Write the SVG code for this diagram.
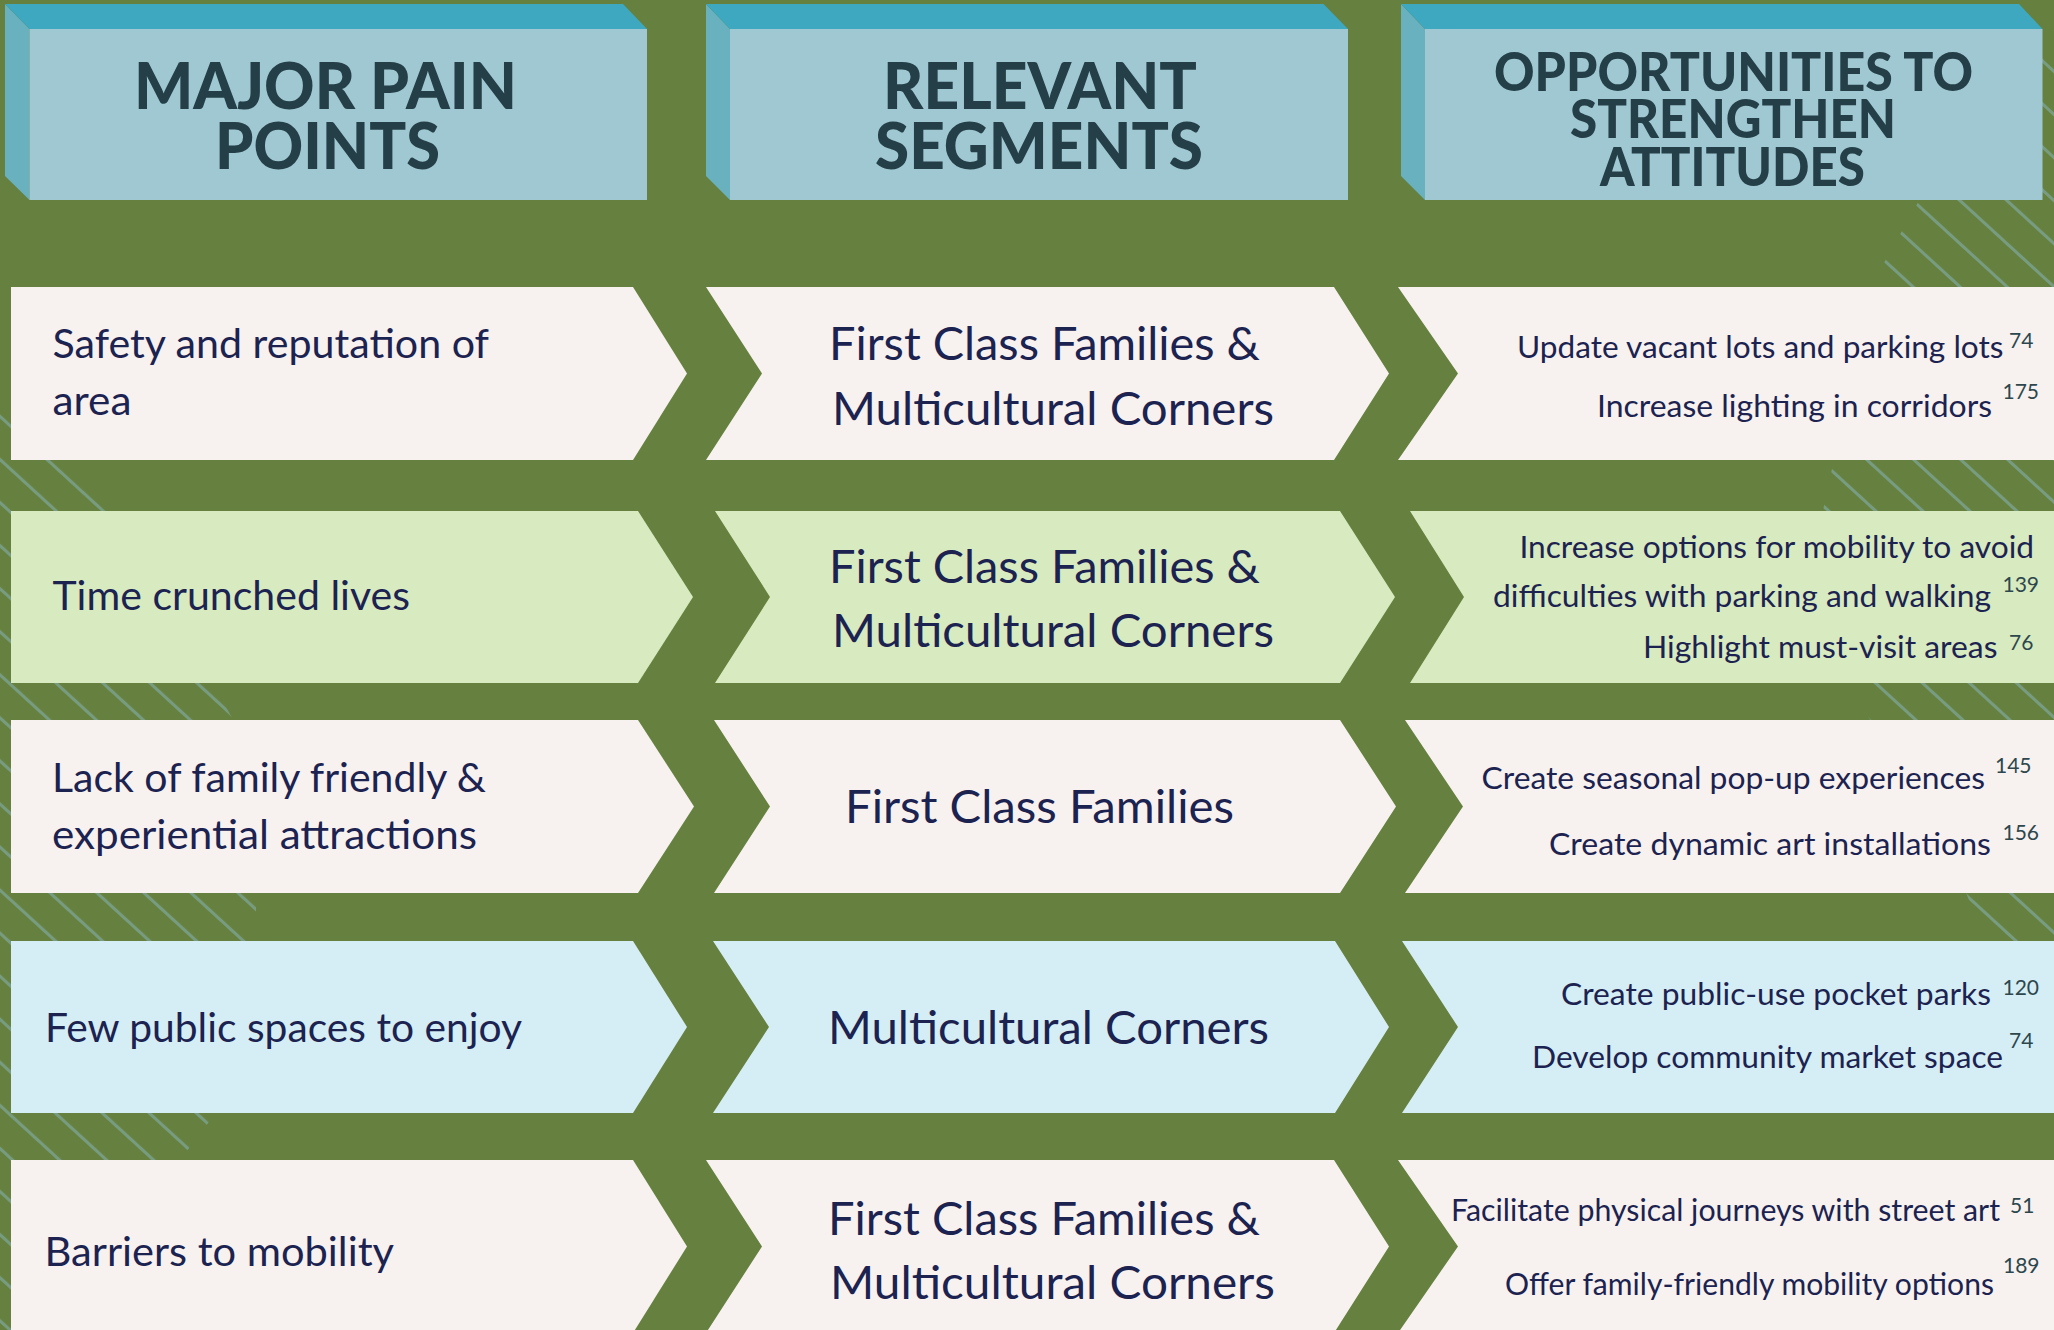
<svg xmlns="http://www.w3.org/2000/svg" width="2054" height="1330" viewBox="0 0 2054 1330">
  <defs>
    <style>
      .hd-top { fill: #3da8bf; }
      .hd-side { fill: #6ab1c0; }
      .hd-front { fill: #a0c8d2; }
      .hd-text { font-family: Lato, "Liberation Sans", sans-serif; font-weight: 900; fill: #243f47; text-anchor: middle; }
      .h1 { font-size: 64px; }
      .h3 { font-size: 54px; }
      .row-a { fill: #f7f2ef; }
      .row-b { fill: #d8eabf; }
      .row-c { fill: #d5eef5; }
      .t { font-family: Lato, "Liberation Sans", sans-serif; fill: #1c2350; }
      .lt { font-size: 41px; }
      .mt { font-size: 46px; }
      .rt { font-size: 31px; text-anchor: end; }
      .sup { font-family: Lato, "Liberation Sans", sans-serif; font-size: 21px; fill: #2d474d; }
    </style>
    <!-- diagonal pinstripes for the background decoration -->
    <pattern id="stripesL" patternUnits="userSpaceOnUse" width="31.75" height="20" patternTransform="rotate(-47.5)">
      <rect x="9" y="0" width="3" height="20" fill="#789c82"/>
    </pattern>
    <pattern id="stripesR" patternUnits="userSpaceOnUse" width="31.75" height="20" patternTransform="rotate(-47.5)">
      <rect x="0" y="0" width="3" height="20" fill="#789c82"/>
    </pattern>
    <clipPath id="clipL">
      <polygon points="0,395 20,395 125,505 222,700 256,760 256,1060 180,1160 11,1160 11,1333 0,1333"/>
    </clipPath>
    <clipPath id="clipR">
      <polygon points="2054,30 2045,30 1925,190 1880,270 1835,455 1822,515 1850,684 1965,890 1985,941 2054,941"/>
    </clipPath>
  </defs>

  <!-- background -->
  <rect x="0" y="0" width="2054" height="1330" fill="#66813f"/>
  <g id="stripes">
    <rect x="0" y="0" width="400" height="1330" fill="url(#stripesL)" clip-path="url(#clipL)"/>
    <rect x="1700" y="0" width="354" height="1330" fill="url(#stripesR)" clip-path="url(#clipR)"/>
  </g>

  <!-- column headers -->
  <g id="header-pain-points">
    <polygon class="hd-side" points="5,4 29.5,29 29.5,200 5,176"/>
    <polygon class="hd-top" points="5,4 623,4 647,29 29.5,29"/>
    <rect class="hd-front" x="29.5" y="29" width="617.5" height="171"/>
    <text class="hd-text h1" x="325.5" y="109" textLength="383" lengthAdjust="spacingAndGlyphs">MAJOR PAIN</text>
    <text class="hd-text h1" x="327.5" y="169" textLength="225" lengthAdjust="spacingAndGlyphs">POINTS</text>
  </g>
  <g id="header-segments">
    <polygon class="hd-side" points="706,4 730,29 730,200 706,176"/>
    <polygon class="hd-top" points="706,4 1323.5,4 1348,29 730,29"/>
    <rect class="hd-front" x="730" y="29" width="618" height="171"/>
    <text class="hd-text h1" x="1040" y="109" textLength="314" lengthAdjust="spacingAndGlyphs">RELEVANT</text>
    <text class="hd-text h1" x="1039" y="169" textLength="328" lengthAdjust="spacingAndGlyphs">SEGMENTS</text>
  </g>
  <g id="header-opportunities">
    <polygon class="hd-side" points="1401,4 1425,29 1425,200 1401,176"/>
    <polygon class="hd-top" points="1401,4 2019,4 2042.5,29 1425,29"/>
    <rect class="hd-front" x="1425" y="29" width="617.5" height="171"/>
    <text class="hd-text h3" x="1733.5" y="91" textLength="479" lengthAdjust="spacingAndGlyphs">OPPORTUNITIES TO</text>
    <text class="hd-text h3" x="1733" y="138" textLength="326" lengthAdjust="spacingAndGlyphs">STRENGTHEN</text>
    <text class="hd-text h3" x="1732.5" y="186" textLength="265" lengthAdjust="spacingAndGlyphs">ATTITUDES</text>
  </g>

  <!-- row 1 -->
  <g id="pain-safety">
    <polygon class="row-a" points="11,287 633,287 687,373.5 633,460 11,460"/>
    <text class="t lt" x="52.5" y="358" textLength="436.5" lengthAdjust="spacingAndGlyphs">Safety and reputation of</text>
    <text class="t lt" x="52.5" y="415" textLength="79" lengthAdjust="spacingAndGlyphs">area</text>
  </g>
  <g id="segment-safety">
    <polygon class="row-a" points="706,287 1334,287 1389,373.5 1334,460 706,460 762,373.5"/>
    <text class="t mt" x="829" y="360" textLength="431" lengthAdjust="spacingAndGlyphs">First Class Families &amp;</text>
    <text class="t mt" x="832" y="425" textLength="442" lengthAdjust="spacingAndGlyphs">Multicultural Corners</text>
  </g>
  <g id="opportunity-safety">
    <polygon class="row-a" points="1398,287 2054,287 2054,460 1398,460 1458,373.5"/>
    <text class="t rt" x="2003.5" y="358" textLength="486.5" lengthAdjust="spacingAndGlyphs">Update vacant lots and parking lots</text>
    <text class="sup" x="2009" y="348">74</text>
    <text class="t rt" x="1992" y="417" textLength="395" lengthAdjust="spacingAndGlyphs">Increase lighting in corridors</text>
    <text class="sup" x="2002.5" y="399">175</text>
  </g>

  <!-- row 2 -->
  <g id="pain-time">
    <polygon class="row-b" points="11,511 638,511 693,597 638,683 11,683"/>
    <text class="t lt" x="52.5" y="610" textLength="357.5" lengthAdjust="spacingAndGlyphs">Time crunched lives</text>
  </g>
  <g id="segment-time">
    <polygon class="row-b" points="715,511 1340,511 1395,597 1340,683 715,683 770,597"/>
    <text class="t mt" x="829" y="583" textLength="431" lengthAdjust="spacingAndGlyphs">First Class Families &amp;</text>
    <text class="t mt" x="832" y="647" textLength="442" lengthAdjust="spacingAndGlyphs">Multicultural Corners</text>
  </g>
  <g id="opportunity-time">
    <polygon class="row-b" points="1410,511 2054,511 2054,683 1410,683 1464,597"/>
    <text class="t rt" x="2034" y="558" textLength="514.6" lengthAdjust="spacingAndGlyphs">Increase options for mobility to avoid</text>
    <text class="t rt" x="1991" y="607" textLength="498" lengthAdjust="spacingAndGlyphs">difficulties with parking and walking</text>
    <text class="sup" x="2002.5" y="592">139</text>
    <text class="t rt" x="1997.5" y="658" textLength="354.5" lengthAdjust="spacingAndGlyphs">Highlight must-visit areas</text>
    <text class="sup" x="2009" y="650">76</text>
  </g>

  <!-- row 3 -->
  <g id="pain-attractions">
    <polygon class="row-a" points="11,720 638,720 694,806.5 638,893 11,893"/>
    <text class="t lt" x="52" y="792" textLength="434" lengthAdjust="spacingAndGlyphs">Lack of family friendly &amp;</text>
    <text class="t lt" x="52" y="849" textLength="425" lengthAdjust="spacingAndGlyphs">experiential attractions</text>
  </g>
  <g id="segment-attractions">
    <polygon class="row-a" points="714,720 1340,720 1396,806.5 1340,893 714,893 770,806.5"/>
    <text class="t mt" x="845" y="823" textLength="389" lengthAdjust="spacingAndGlyphs">First Class Families</text>
  </g>
  <g id="opportunity-attractions">
    <polygon class="row-a" points="1405,720 2054,720 2054,893 1405,893 1463,806.5"/>
    <text class="t rt" x="1985" y="789" textLength="503.4" lengthAdjust="spacingAndGlyphs">Create seasonal pop-up experiences</text>
    <text class="sup" x="1995" y="773">145</text>
    <text class="t rt" x="1991" y="855" textLength="442" lengthAdjust="spacingAndGlyphs">Create dynamic art installations</text>
    <text class="sup" x="2002.5" y="840">156</text>
  </g>

  <!-- row 4 -->
  <g id="pain-public-spaces">
    <polygon class="row-c" points="11,941 633,941 687,1027 633,1113 11,1113"/>
    <text class="t lt" x="45" y="1042" textLength="477" lengthAdjust="spacingAndGlyphs">Few public spaces to enjoy</text>
  </g>
  <g id="segment-public-spaces">
    <polygon class="row-c" points="713,941 1335,941 1389,1027 1335,1113 713,1113 769,1027"/>
    <text class="t mt" x="828" y="1044" textLength="441" lengthAdjust="spacingAndGlyphs">Multicultural Corners</text>
  </g>
  <g id="opportunity-public-spaces">
    <polygon class="row-c" points="1402,941 2054,941 2054,1113 1402,1113 1458,1027"/>
    <text class="t rt" x="1991" y="1005" textLength="430" lengthAdjust="spacingAndGlyphs">Create public-use pocket parks</text>
    <text class="sup" x="2002.5" y="995">120</text>
    <text class="t rt" x="2003" y="1068" textLength="471" lengthAdjust="spacingAndGlyphs">Develop community market space</text>
    <text class="sup" x="2009" y="1048">74</text>
  </g>

  <!-- row 5 -->
  <g id="pain-mobility">
    <polygon class="row-a" points="11,1160 633,1160 687,1246.5 633,1333 11,1333"/>
    <text class="t lt" x="44.5" y="1266" textLength="349.5" lengthAdjust="spacingAndGlyphs">Barriers to mobility</text>
  </g>
  <g id="segment-mobility">
    <polygon class="row-a" points="706,1160 1334,1160 1389,1246.5 1334,1333 706,1333 762,1246.5"/>
    <text class="t mt" x="828" y="1235" textLength="432" lengthAdjust="spacingAndGlyphs">First Class Families &amp;</text>
    <text class="t mt" x="830" y="1299" textLength="445" lengthAdjust="spacingAndGlyphs">Multicultural Corners</text>
  </g>
  <g id="opportunity-mobility">
    <polygon class="row-a" points="1398,1160 2054,1160 2054,1333 1398,1333 1458,1246.5"/>
    <text class="t rt" x="2000" y="1221" textLength="549" lengthAdjust="spacingAndGlyphs">Facilitate physical journeys with street art</text>
    <text class="sup" x="2010" y="1213">51</text>
    <text class="t rt" x="1994" y="1295" textLength="489" lengthAdjust="spacingAndGlyphs">Offer family-friendly mobility options</text>
    <text class="sup" x="2003" y="1273">189</text>
  </g>
</svg>
